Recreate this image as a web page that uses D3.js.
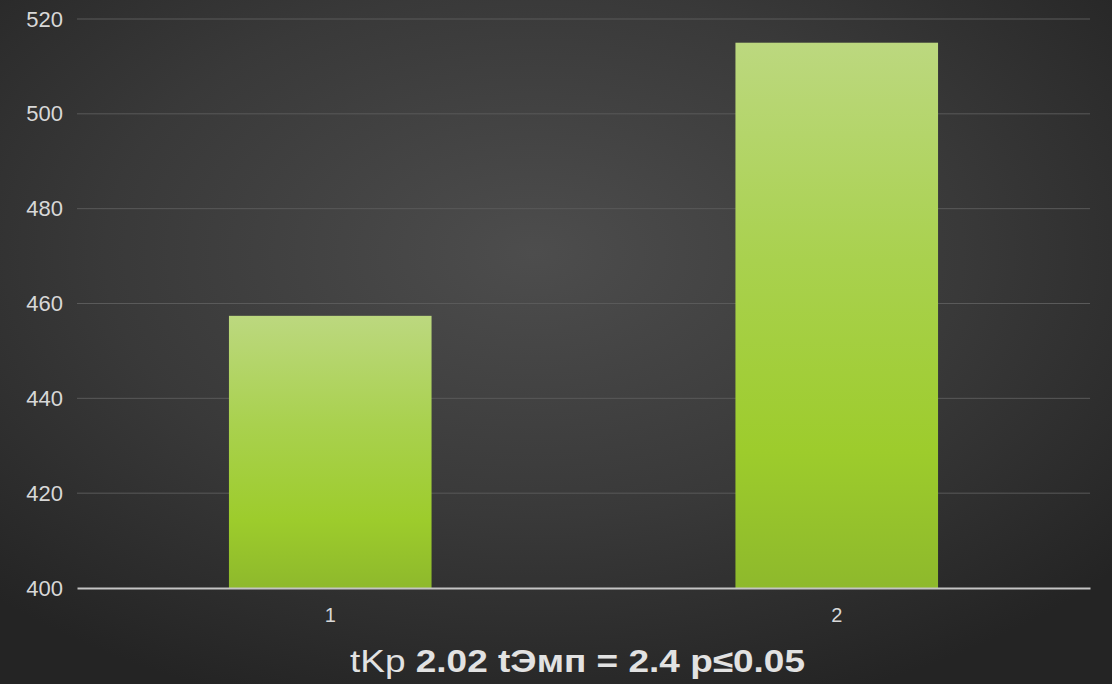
<!DOCTYPE html>
<html>
<head>
<meta charset="utf-8">
<script src="https://cdn.jsdelivr.net/npm/d3@7"></script>
<style>
  html, body { margin: 0; padding: 0; background: #2a2a2a; }
  svg { display: block; }
</style>
</head>
<body>
<div id="chart"></div>
<script>
// data
var categories = ["1", "2"];
var values = [457.4, 515];
var yTicks = [400, 420, 440, 460, 480, 500, 520];
var caption = ["tKp", " 2.02 tЭмп = 2.4 p≤0.05"];

var width = 1112, height = 684;
var margin = { top: 19, right: 22, bottom: 96, left: 77 };

var svg = d3.select("#chart").append("svg")
    .attr("width", width)
    .attr("height", height);

var defs = svg.append("defs");

// dark vignette background
var bg = defs.append("radialGradient")
    .attr("id", "bg")
    .attr("cx", "48%").attr("cy", "37%").attr("r", "70%");
bg.append("stop").attr("offset", "0%").attr("stop-color", "#4d4d4d");
bg.append("stop").attr("offset", "55%").attr("stop-color", "#393939");
bg.append("stop").attr("offset", "100%").attr("stop-color", "#242424");

// green bar fill
var bar = defs.append("linearGradient")
    .attr("id", "barFill")
    .attr("x1", 0).attr("y1", 0).attr("x2", 0).attr("y2", 1);
bar.append("stop").attr("offset", "0%").attr("stop-color", "#bcd87f");
bar.append("stop").attr("offset", "40%").attr("stop-color", "#a9d14e");
bar.append("stop").attr("offset", "75%").attr("stop-color", "#9dcc2c");
bar.append("stop").attr("offset", "100%").attr("stop-color", "#8eb92c");

svg.append("rect")
    .attr("width", width).attr("height", height)
    .attr("fill", "url(#bg)");

var x = d3.scaleBand()
    .domain(categories)
    .range([margin.left, width - margin.right])
    .paddingInner(0.6)
    .paddingOuter(0.3);

var y = d3.scaleLinear()
    .domain([400, 520])
    .range([height - margin.bottom, margin.top]);

// gridlines
svg.append("g")
    .selectAll("line")
    .data(yTicks.filter(function (d) { return d > 400; }))
    .enter().append("line")
    .attr("x1", margin.left)
    .attr("x2", width - margin.right)
    .attr("y1", function (d) { return y(d); })
    .attr("y2", function (d) { return y(d); })
    .attr("stroke", "#5a5a5a")
    .attr("stroke-width", 1);

// bars
svg.append("g")
    .selectAll("rect")
    .data(values)
    .enter().append("rect")
    .attr("x", function (d, i) { return x(categories[i]); })
    .attr("y", function (d) { return y(d); })
    .attr("width", x.bandwidth())
    .attr("height", function (d) { return y(400) - y(d); })
    .attr("fill", "url(#barFill)");

// y axis labels
var yAxis = svg.append("g")
    .attr("transform", "translate(" + margin.left + ",0)")
    .call(d3.axisLeft(y).tickValues(yTicks).tickSize(0).tickPadding(14));
yAxis.select(".domain").remove();
yAxis.selectAll("text")
    .attr("fill", "#d8d8d8")
    .style("font-family", "'Liberation Sans', Arial, sans-serif")
    .style("font-size", "22px");

// x axis
var xAxis = svg.append("g")
    .attr("transform", "translate(0," + y(400) + ")")
    .call(d3.axisBottom(x).tickSize(0).tickPadding(20));
xAxis.select(".domain")
    .attr("stroke", "#c4c4c4")
    .attr("stroke-width", 2);
xAxis.selectAll("text")
    .attr("fill", "#d8d8d8")
    .style("font-family", "'Liberation Sans', Arial, sans-serif")
    .style("font-size", "20px");

// caption (slightly stretched like the source image)
var cap = svg.append("text")
    .attr("x", 350)
    .attr("y", 672)
    .attr("textLength", 455)
    .attr("lengthAdjust", "spacingAndGlyphs")
    .attr("fill", "#e2e2e2")
    .style("font-family", "'Liberation Sans', Arial, sans-serif")
    .style("font-size", "31px");
cap.append("tspan").text(caption[0]);
cap.append("tspan").style("font-weight", "bold").text(caption[1]);
</script>
</body>
</html>
